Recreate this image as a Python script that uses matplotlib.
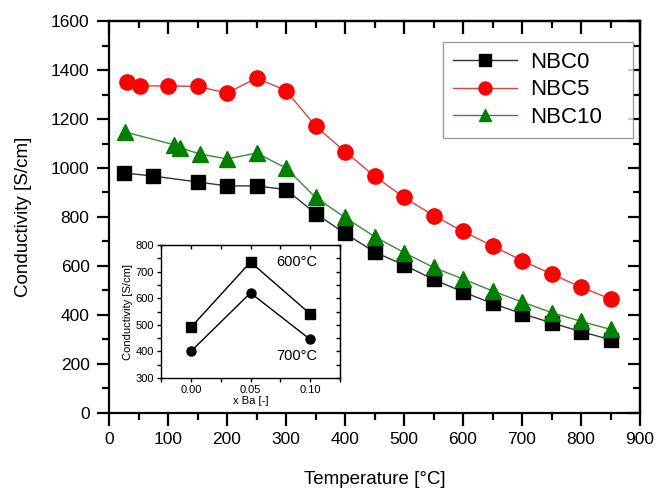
import matplotlib
matplotlib.use("Agg")
import matplotlib.pyplot as plt
from matplotlib.ticker import MultipleLocator

plt.rcParams['font.family'] = ['Liberation Sans', 'DejaVu Sans']

# Main data
t_nbc0 = [25, 75, 150, 200, 250, 300, 350, 400, 450, 500, 550, 600, 650, 700, 750, 800, 850]
c_nbc0 = [980, 967, 943, 927, 927, 912, 814, 733, 657, 604, 545, 494, 447, 405, 368, 332, 299]

t_nbc5 = [30, 52, 100, 150, 200, 250, 300, 350, 400, 450, 500, 550, 600, 650, 700, 750, 800, 850]
c_nbc5 = [1349, 1335, 1335, 1333, 1306, 1367, 1316, 1171, 1067, 967, 880, 806, 741, 682, 622, 567, 514, 465]

t_nbc10 = [27, 110, 120, 155, 200, 250, 300, 350, 400, 450, 500, 550, 600, 650, 700, 750, 800, 850]
c_nbc10 = [1147, 1095, 1082, 1057, 1037, 1061, 1000, 880, 798, 720, 655, 594, 547, 498, 453, 410, 374, 341]

# Inset data
x_ba = [0.00, 0.05, 0.10]
c_600 = [490, 736, 541]
c_700 = [400, 620, 445]

fig = plt.figure(figsize=(6.58, 4.92), dpi=100)
ax = fig.add_axes([0.1657, 0.1606, 0.807, 0.7967])

ax.plot(t_nbc0, c_nbc0, color='#333333', lw=1.0, marker='s', ms=9.5,
        mfc='black', mec='black', label='NBC0')
ax.plot(t_nbc5, c_nbc5, color='#e04040', lw=1.0, marker='o', ms=11,
        mfc='red', mec='red', label='NBC5')
ax.plot(t_nbc10, c_nbc10, color='#3a8a3a', lw=1.0, marker='^', ms=11,
        mfc='green', mec='green', label='NBC10')

ax.set_xlim(0, 900)
ax.set_ylim(0, 1600)
ax.xaxis.set_major_locator(MultipleLocator(100))
ax.xaxis.set_minor_locator(MultipleLocator(50))
ax.yaxis.set_major_locator(MultipleLocator(200))
ax.yaxis.set_minor_locator(MultipleLocator(100))
for s in ax.spines.values():
    s.set_linewidth(1.6)
ax.tick_params(which='major', direction='out', length=9, width=1.6, labelsize=12.5, pad=5)
ax.tick_params(which='minor', direction='out', length=5, width=1.6)
ax.set_xlabel('Temperature [°C]', fontsize=13.5, labelpad=17)
ax.set_ylabel('Conductivity [S/cm]', fontsize=13.5, labelpad=14)

# inward ticks on top and right
sx = ax.secondary_xaxis('top')
sx.xaxis.set_major_locator(MultipleLocator(100))
sx.xaxis.set_minor_locator(MultipleLocator(50))
sx.tick_params(which='major', direction='in', length=9, width=1.6, labeltop=False)
sx.tick_params(which='minor', direction='in', length=5, width=1.6)
sx.spines['top'].set_linewidth(1.6)
sy = ax.secondary_yaxis('right')
sy.yaxis.set_major_locator(MultipleLocator(200))
sy.yaxis.set_minor_locator(MultipleLocator(100))
sy.tick_params(which='major', direction='in', length=9, width=1.6, labelright=False)
sy.tick_params(which='minor', direction='in', length=5, width=1.6)
sy.spines['right'].set_linewidth(1.6)

leg = ax.legend(loc='upper left', bbox_to_anchor=(0.629, 0.705, 0.358, 0.241),
                mode='expand', borderaxespad=0, fontsize=16,
                frameon=True, fancybox=False, edgecolor='#888888',
                borderpad=0.45, handlelength=2.9, labelspacing=0.28, handletextpad=0.55,
                markerscale=0.85)
leg.get_frame().set_linewidth(1.0)

# Inset
ins = fig.add_axes([0.2447, 0.2317, 0.272, 0.2703])
ins.plot(x_ba, c_600, color='black', lw=1.0, marker='s', ms=6.5)
ins.plot(x_ba, c_700, color='black', lw=1.0, marker='o', ms=6.5)
ins.set_xlim(-0.025, 0.125)
ins.set_ylim(300, 800)
ins.set_xticks([0.00, 0.05, 0.10])
ins.set_xticklabels(['0.00', '0.05', '0.10'])
ins.xaxis.set_minor_locator(MultipleLocator(0.025))
ins.yaxis.set_major_locator(MultipleLocator(100))
ins.yaxis.set_minor_locator(MultipleLocator(50))
for s in ins.spines.values():
    s.set_linewidth(1.0)
ins.tick_params(which='both', direction='out', length=3, width=1.0, labelsize=8, pad=2)
ins.set_xlabel('x Ba [-]', fontsize=8, labelpad=1)
ins.set_ylabel('Conductivity [S/cm]', fontsize=8, labelpad=2)
isx = ins.secondary_xaxis('top')
isx.set_xticks([0.00, 0.05, 0.10])
isx.xaxis.set_minor_locator(MultipleLocator(0.025))
isx.tick_params(which='both', direction='in', length=3, width=1.0, labeltop=False)
isy = ins.secondary_yaxis('right')
isy.yaxis.set_major_locator(MultipleLocator(100))
isy.yaxis.set_minor_locator(MultipleLocator(50))
isy.tick_params(which='both', direction='in', length=3, width=1.0, labelright=False)
ins.text(0.089, 735, '600°C', fontsize=10.5, ha='center', va='center')
ins.text(0.089, 383, '700°C', fontsize=10.5, ha='center', va='center')

fig.savefig('out.png', dpi=100)
